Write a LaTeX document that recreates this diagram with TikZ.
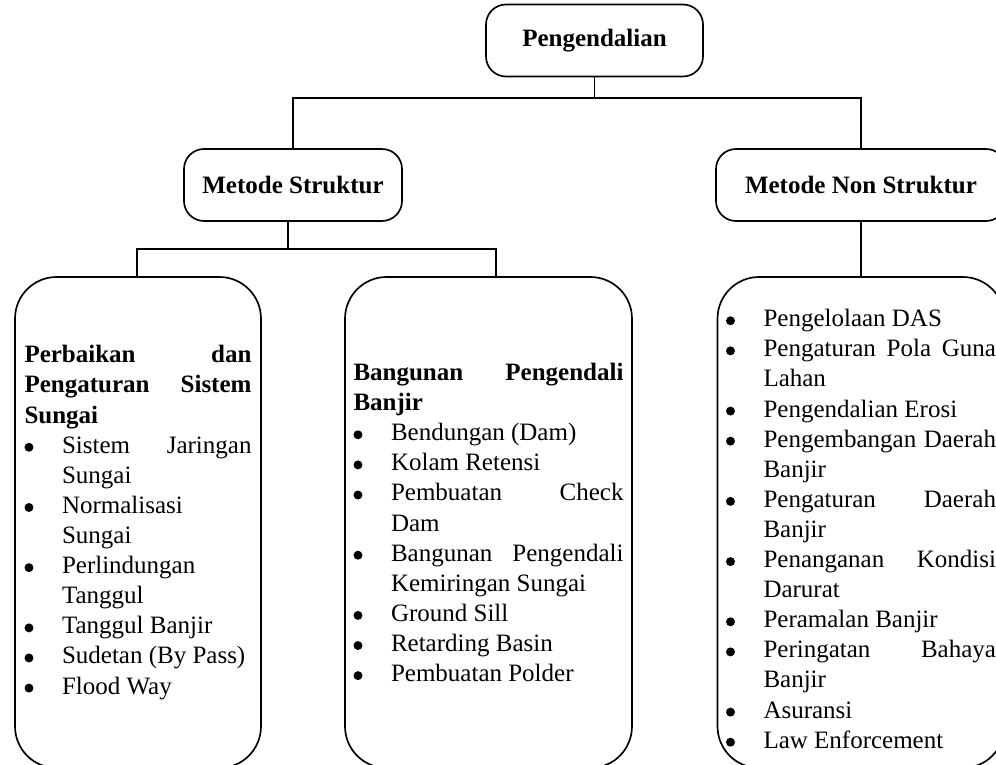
\documentclass[tikz,border=0pt]{standalone}
\usepackage{fontspec}
\setmainfont{Liberation Serif}
\newcommand\bdot{\tikz[baseline=0pt, x=1pt, y=1pt]\fill (2.3,2.85) circle[radius=2.15];}
\newcommand\bitem[1]{\par\hangindent=18pt\hangafter=1\noindent\makebox[18pt][l]{\bdot}#1}
\newcommand\parsetup{\parindent=0pt\hyphenpenalty=10000\exhyphenpenalty=10000\tolerance=10000\hbadness=10000\emergencystretch=10pt}
\tikzset{
  conn/.style={line width=0.8pt},
  titlebox/.style={draw, line width=0.8pt, rounded corners=9.6pt, inner sep=0pt,
    font=\fontsize{12}{14.4}\selectfont\bfseries, minimum height=72*0.48pt},
  listbox/.style={draw, line width=0.8pt, rounded corners=20pt, inner sep=0pt,
    font=\fontsize{12}{14.45}\selectfont, align=justify, minimum height=491*0.48pt},
}
\begin{document}
\begin{tikzpicture}[x=0.48pt, y=-0.48pt]
\useasboundingbox (0,0) rectangle (996,765);
\clip (0,0) rectangle (996,765);
% title boxes
\node[titlebox, minimum width=217*0.48pt] (top) at (594.5,40.5) {Pengendalian};
\node[titlebox, minimum width=218*0.48pt] (ms) at (293,185) {Metode Struktur};
\node[titlebox, minimum width=290*0.48pt] (mns) at (861,185) {Metode Non Struktur};
% list boxes
\node[listbox, minimum width=246*0.48pt, text width=227*0.48pt] (b1) at (138,522.5) {\parsetup
\textbf{Perbaikan dan\linebreak Pengaturan Sistem\linebreak Sungai}
\bitem{Sistem Jaringan\linebreak Sungai}
\bitem{Normalisasi\newline Sungai}
\bitem{Perlindungan\newline Tanggul}
\bitem{Tanggul Banjir}
\bitem{Sudetan (By Pass)}
\bitem{Flood Way}\par};
\node[listbox, minimum width=287*0.48pt, text width=270*0.48pt] (b2) at (488.5,522.5) {\parsetup
\textbf{Bangunan Pengendali\linebreak Banjir}
\bitem{Bendungan (Dam)}
\bitem{Kolam Retensi}
\bitem{Pembuatan Check\linebreak Dam}
\bitem{Bangunan Pengendali\linebreak Kemiringan Sungai}
\bitem{Ground Sill}
\bitem{Retarding Basin}
\bitem{Pembuatan Polder}\par};
\node[listbox, minimum width=287*0.48pt, text width=270*0.48pt] (b3) at (861,522.5) {\parsetup
\bitem{Pengelolaan DAS}
\bitem{Pengaturan Pola Guna\linebreak Lahan}
\bitem{Pengendalian Erosi}
\bitem{Pengembangan Daerah\linebreak Banjir}
\bitem{Pengaturan Daerah\linebreak Banjir}
\bitem{Penanganan Kondisi\linebreak Darurat}
\bitem{Peramalan Banjir}
\bitem{Peringatan Bahaya\linebreak Banjir}
\bitem{Asuransi}
\bitem{Law Enforcement}\par};
% connectors
\coordinate (j1) at (594.5,98);
\coordinate (j2) at (288,249);
\draw[conn] (top.south) -- (j1);
\draw[conn] (ms.north) -- (ms.north |- j1) -- (mns.north |- j1) -- (mns.north);
\draw[conn] ([xshift=-5*0.48pt]ms.south) -- (j2);
\draw[conn] ([xshift=-1*0.48pt]b1.north) -- ([xshift=-1*0.48pt]b1.north |- j2) -- ([xshift=7.5*0.48pt]b2.north |- j2) -- ([xshift=7.5*0.48pt]b2.north);
\draw[conn] (mns.south) -- (b3.north);
\end{tikzpicture}
\end{document}
